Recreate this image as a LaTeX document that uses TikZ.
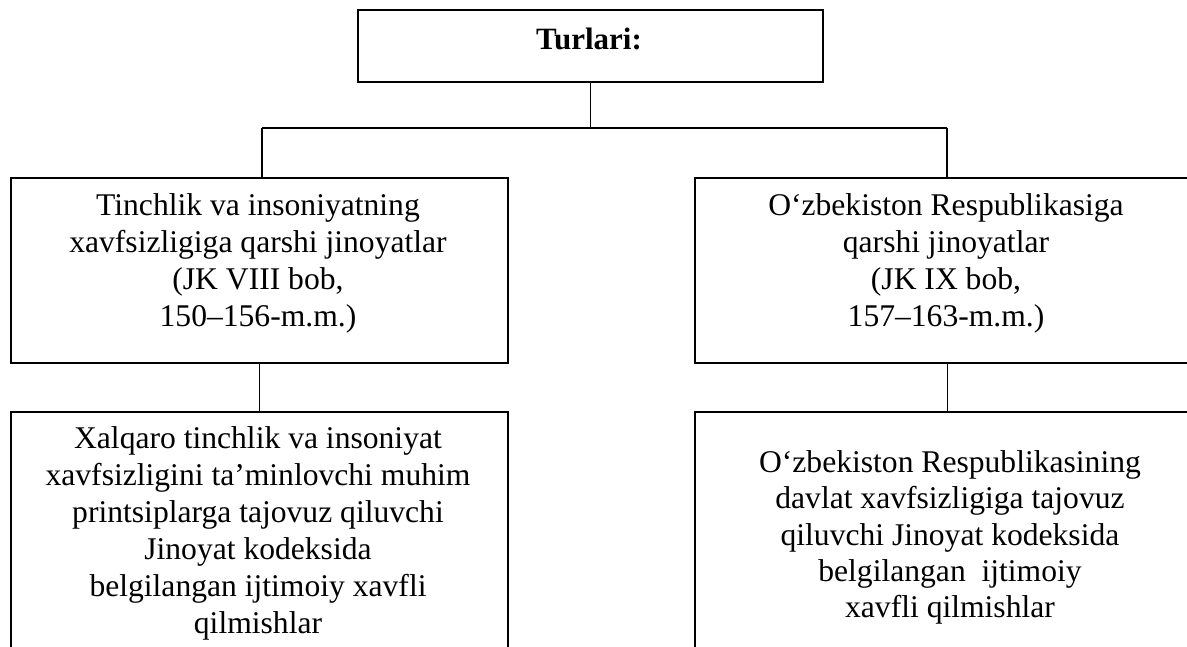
\documentclass[tikz,border=0pt]{standalone}
\usepackage{fontspec}
\setmainfont{Liberation Serif}
\begin{document}
\begin{tikzpicture}[x=1pt,y=-1pt,
  box/.style={draw=black, line width=2.1pt, rectangle, inner sep=0pt, anchor=north west},
  conn/.style={draw=black, line width=1.3pt},
  bus/.style={draw=black, line width=2.1pt},
  txt/.style={anchor=north, inner sep=0pt, align=center, font=\fontsize{31.6}{37}\selectfont}
]
\useasboundingbox (0,0) rectangle (1187,647);
\clip (0,0) rectangle (1187,647);
\fill[white] (0,0) rectangle (1187,647);
% boxes
\node[box, minimum width=465pt, minimum height=72pt] (top) at (357,9) {};
\node[box, minimum width=497pt, minimum height=185pt] (tl) at (10,177) {};
\node[box, minimum width=505pt, minimum height=185pt] (tr) at (694,177) {};
\node[box, minimum width=497pt, minimum height=300pt] (bl) at (10,411) {};
\node[box, minimum width=505pt, minimum height=300pt] (br) at (694,411) {};
% texts
\node[anchor=base, inner sep=0pt, font=\fontsize{31}{37}\selectfont\bfseries] (toptxt) at (589,50) {Turlari:};
\node[txt] (tltxt) at (258,189) {\strut Tinchlik va insoniyatning\\\strut xavfsizligiga qarshi jinoyatlar\\\strut (JK VIII bob,\\\strut 150–156-m.m.)};
\node[txt] (trtxt) at (946,189) {\strut O‘zbekiston Respublikasiga\\\strut qarshi jinoyatlar\\\strut (JK IX bob,\\\strut 157–163-m.m.)};
\node[txt] (bltxt) at (258,422) {\strut Xalqaro tinchlik va insoniyat\\\strut xavfsizligini ta’minlovchi muhim\\\strut printsiplarga tajovuz qiluvchi\\\strut Jinoyat kodeksida\\\strut belgilangan ijtimoiy xavfli\\\strut qilmishlar};
\node[txt, font=\fontsize{31.6}{36.3}\selectfont] (brtxt) at (950,447) {\strut O‘zbekiston Respublikasining\\\strut davlat xavfsizligiga tajovuz\\\strut qiluvchi Jinoyat kodeksida\\\strut belgilangan~~ijtimoiy\\\strut xavfli qilmishlar};
% connectors
\coordinate (busL) at (262,128);
\coordinate (busR) at (947,128);
\draw[conn] (top.south) -- (top.south |- busL);
\draw[bus] (busL) -- (busR);
\draw[conn] (busL) -- (busL |- tl.north);
\draw[conn] (busR) -- (busR |- tr.north);
\draw[conn] (tl.south) -- (bl.north);
\draw[conn] (tr.south) -- (br.north);
\end{tikzpicture}
\end{document}
